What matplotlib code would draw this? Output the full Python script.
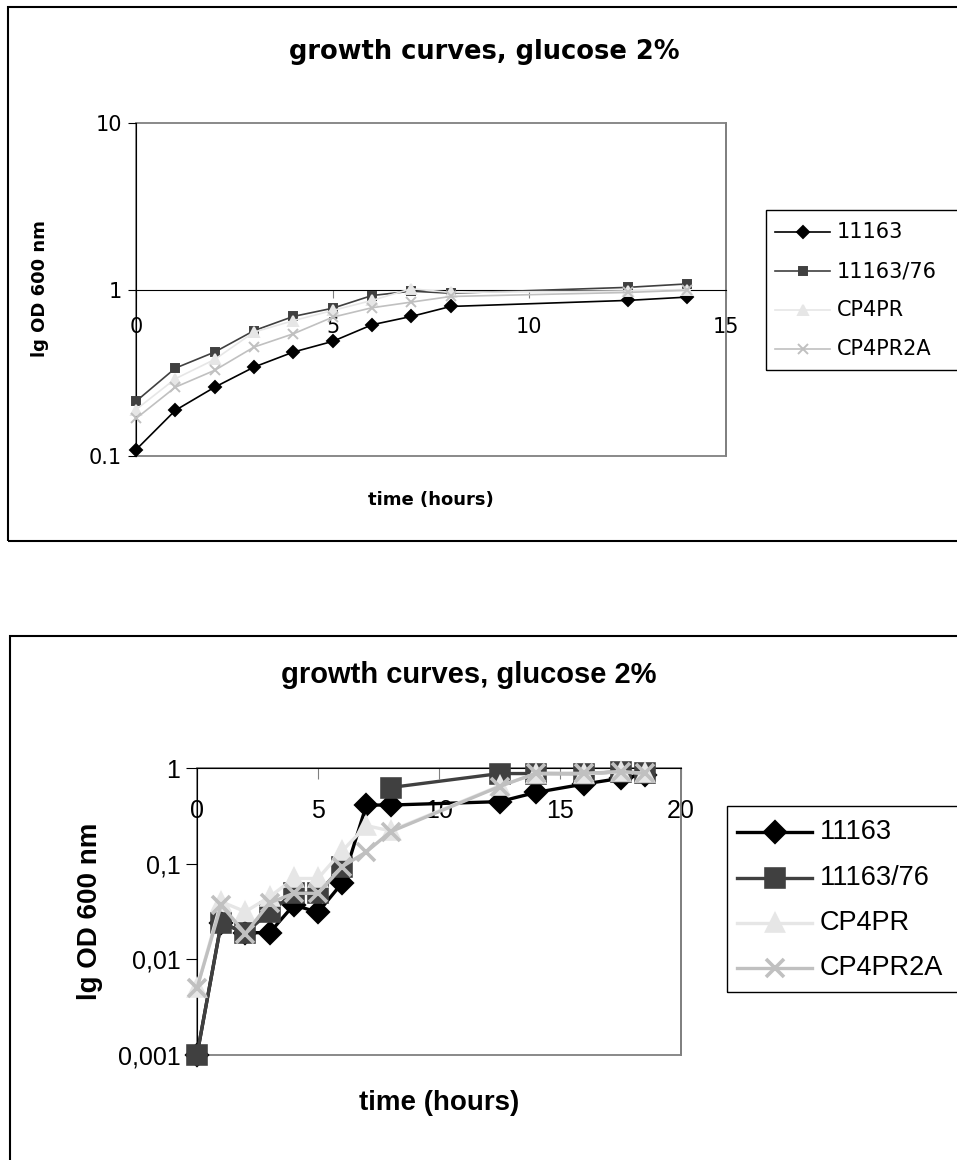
import matplotlib
matplotlib.use("Agg")
import matplotlib.pyplot as plt
from matplotlib.patches import Rectangle
from matplotlib.lines import Line2D

plt.rcParams['font.family'] = ['Liberation Sans', 'DejaVu Sans']

W, H = 957, 1160
nan = float('nan')

names = ["11163", "11163/76", "CP4PR", "CP4PR2A"]
colors = ["#000000", "#404040", "#e6e6e6", "#c0c0c0"]
markers = ["D", "s", "^", "x"]

# upper chart
hours_top = [0, 1, 2, 3, 4, 5, 6, 7, 8, 12.5, 14]
top_11163 = [0.109, 0.188, 0.259, 0.342, 0.421, 0.488, 0.614, 0.689, 0.791, 0.86, 0.90]
top_11163_76 = [0.213, 0.337, 0.421, 0.566, 0.689, 0.772, 0.92, 0.977, 0.95, 1.03, 1.08]
top_cp4pr = [0.19, 0.291, 0.38, 0.555, 0.65, 0.748, 0.86, 1.01, 0.96, 0.98, 1.0]
top_cp4pr2a = [0.168, 0.259, 0.327, 0.451, 0.542, 0.682, 0.777, 0.84, 0.908, 0.96, 0.99]

# lower chart
hours_bot = [0, 1, 2, 3, 4, 5, 6, 7, 8, 12.5, 14, 16, 17.5, 18.5]
bot_11163 = [0.001, 0.024, 0.019, 0.019, 0.037, 0.031, 0.063, 0.41, 0.41, 0.445, 0.555, 0.68, 0.78, 0.85]
bot_11163_76 = [0.001, 0.024, 0.019, 0.031, 0.049, 0.049, 0.093, nan, 0.625, 0.875, 0.875, 0.87, 0.915, 0.88]
bot_cp4pr = [0.005, 0.04, 0.0315, 0.045, 0.07, 0.07, 0.136, 0.25, 0.22, 0.65, 0.87, 0.87, 0.91, 0.88]
bot_cp4pr2a = [0.005, 0.037, 0.0186, 0.039, 0.049, 0.049, 0.093, 0.133, 0.216, 0.64, 0.88, 0.88, 0.915, 0.88]

top_series = [top_11163, top_11163_76, top_cp4pr, top_cp4pr2a]
bot_series = [bot_11163, bot_11163_76, bot_cp4pr, bot_cp4pr2a]

fig = plt.figure(figsize=(W / 100, H / 100), dpi=100)


def fx(x):
    return x / W


def fy(y):
    return 1 - y / H


def px_axes(left, top, right, bottom):
    return fig.add_axes([fx(left), fy(bottom), (right - left) / W, (bottom - top) / H])


def style_axes(ax, xmax, ylim, yticks, ylabels, fs, family, xpad, ticklen):
    ax.set_yscale("log")
    ax.set_xlim(0, xmax)
    ax.set_ylim(*ylim)
    ax.set_yticks(yticks)
    ax.set_yticklabels(ylabels)
    ax.yaxis.set_minor_locator(plt.NullLocator())
    ax.set_xticks(range(0, xmax + 1, 5))
    # x axis crosses at y = 1
    ax.spines['bottom'].set_position(('data', 1))
    ax.spines['bottom'].set_color('black')
    ax.spines['left'].set_color('black')
    ax.spines['top'].set_visible(False)
    ax.spines['right'].set_color('#808080')
    ax.spines['right'].set_linewidth(1.3)
    ax.tick_params(axis='x', direction='out', length=ticklen, color='#808080', labelsize=fs,
                   pad=xpad, labelfontfamily=family)
    ax.tick_params(axis='y', direction='out', length=ticklen, labelsize=fs, pad=4,
                   labelfontfamily=family)
    ax.add_patch(Rectangle((0, 0), 1, 1, transform=ax.transAxes, fill=False,
                           ec='#808080', lw=1.3, zorder=0.5, clip_on=False))


def legend_box(left, top, bottom, ys, x0, x1, tx, fs, family, ms_list, lw, mew):
    fig.add_artist(Rectangle((fx(left), fy(bottom)), fx(W + 20) - fx(left), fy(top) - fy(bottom),
                             transform=fig.transFigure, fill=False, ec='black', lw=1.0))
    for i in range(4):
        y = ys[i]
        fig.add_artist(Line2D([fx(x0), fx(x1)], [fy(y), fy(y)], color=colors[i], lw=lw))
        fig.add_artist(Line2D([fx((x0 + x1) / 2)], [fy(y)], marker=markers[i], ms=ms_list[i],
                              color=colors[i], mew=mew, lw=0))
        fig.text(fx(tx), fy(y), names[i], fontsize=fs, family=family, va='center', ha='left')


# outer frames
fig.add_artist(Rectangle((fx(8), fy(541)), fx(W + 20) - fx(8), fy(7) - fy(541),
                         transform=fig.transFigure, fill=False, ec='black', lw=1.5))
fig.add_artist(Rectangle((fx(10), fy(H + 20)), fx(W + 20) - fx(10), fy(636) - fy(H + 20),
                         transform=fig.transFigure, fill=False, ec='black', lw=1.5))

# ---- upper chart ----
top_font = 'DejaVu Sans'
ax1 = px_axes(136, 123, 726, 456)
style_axes(ax1, 15, (0.1, 10), [0.1, 1, 10], ["0.1", "1", "10"], 15, top_font, 14, 6)
ms_top = [6, 6, 7, 7]
for i in range(4):
    ax1.plot(hours_top, top_series[i], color=colors[i], marker=markers[i], ms=ms_top[i],
             lw=1.2, mew=1.4, clip_on=False, zorder=3 + i)
fig.text(fx(484), fy(52), "growth curves, glucose 2%", fontsize=18.5, fontweight='bold',
         family=top_font, ha='center', va='center')
fig.text(fx(40), fy(289), "lg OD 600 nm", fontsize=13, fontweight='bold', family=top_font,
         rotation=90, ha='center', va='center')
fig.text(fx(431), fy(500), "time (hours)", fontsize=13, fontweight='bold', family=top_font,
         ha='center', va='center')
legend_box(766, 210, 370, [232, 271, 310, 349], 775, 830, 837, 15, top_font, ms_top, 1.2, 1.4)

# ---- lower chart ----
bot_font = 'Liberation Sans'
ax2 = px_axes(197, 768, 681, 1055)
style_axes(ax2, 20, (0.001, 1), [0.001, 0.01, 0.1, 1], ["0,001", "0,01", "0,1", "1"], 18,
           bot_font, 14, 8)
ms_bot = [10, 13, 12, 13]
for i in range(4):
    ax2.plot(hours_bot, bot_series[i], color=colors[i], marker=markers[i], ms=ms_bot[i],
             lw=2.4, mew=2.6, clip_on=False, zorder=3 + i)
fig.text(fx(469), fy(675), "growth curves, glucose 2%", fontsize=21, fontweight='bold',
         ha='center', va='center')
fig.text(fx(90), fy(911), "lg OD 600 nm", fontsize=20, fontweight='bold', rotation=90,
         ha='center', va='center')
fig.text(fx(439), fy(1103), "time (hours)", fontsize=20, fontweight='bold',
         ha='center', va='center')
legend_box(727, 806, 992, [832, 878, 923, 968], 737, 812, 820, 19.5, bot_font, ms_bot, 2.4, 2.6)

fig.savefig("out.png", dpi=100)
